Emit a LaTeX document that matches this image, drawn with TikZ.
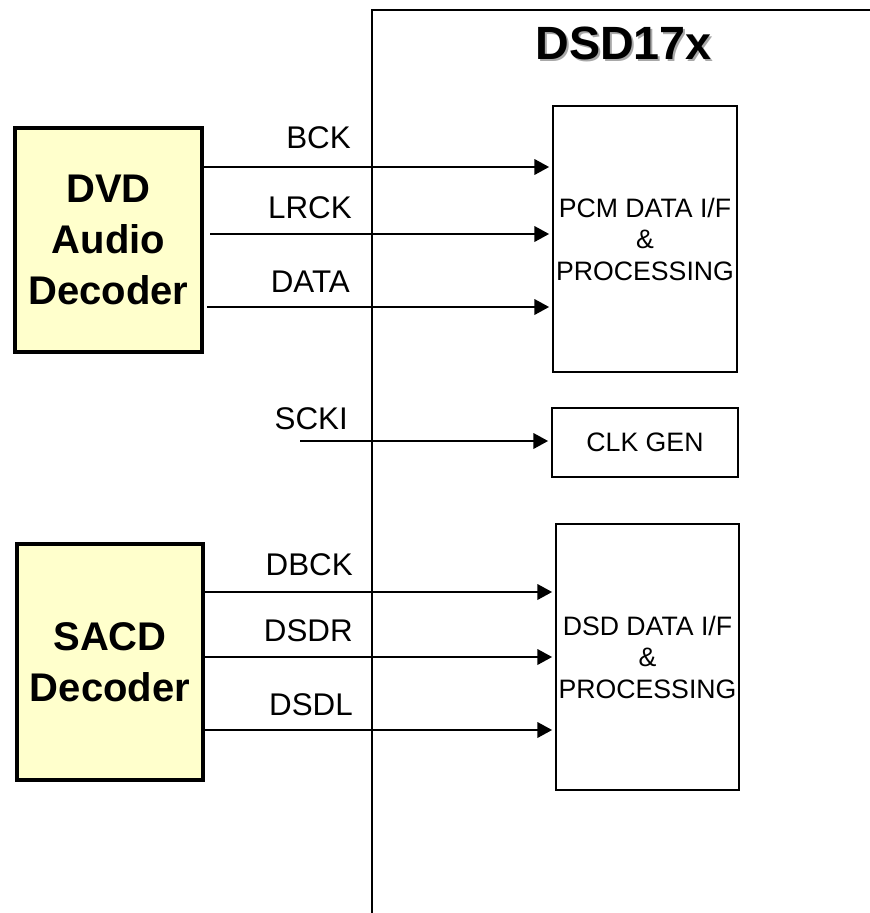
\documentclass[tikz,border=0pt]{standalone}
\usepackage{xcolor}
\usepackage{fontspec}
\setmainfont{Liberation Sans}
\usepackage{tikz}
\usetikzlibrary{arrows.meta}
\definecolor{DFill}{HTML}{FFFFCC}
\definecolor{DShade}{HTML}{A8A8A8}

\begin{document}
\begin{tikzpicture}[x=0.75pt,y=-0.75pt,every node/.style={align=center},
  decoder/.style={draw=black, line width=2.8pt, fill=DFill, inner sep=0pt,
    font=\fontsize{30}{38}\selectfont\bfseries},
  block/.style={draw=black, line width=1.8pt, inner sep=0pt,
    font=\fontsize{20}{23.6}\selectfont},
  pinlabel/.style={font=\fontsize{23.5}{27}\selectfont, anchor=base east, inner sep=0pt},
  chiptitle/.style={font=\fontsize{35}{40}\selectfont\bfseries, anchor=base, inner sep=0pt},
  sig/.style={line width=1.8pt, -{Triangle[length=11pt,width=11.5pt]}, shorten >=2pt}]
  \useasboundingbox (0,0) rectangle (870,913);

  % chip outline and title
  \draw[line width=1.8pt] (372,913) -- (372,10) -- (870,10);
  \node[chiptitle, text=DShade] (titleshade) at (625.5,62) {DSD17x};
  \node[chiptitle] (title) at (623.5,60) {DSD17x};

  % external decoders
  \node[decoder, minimum width=140.25pt, minimum height=168pt] (dvd) at (108.5,240) {DVD\\Audio\\Decoder};
  \node[decoder, minimum width=139.5pt, minimum height=177pt] (sacd) at (110,662) {SACD\\Decoder};

  % internal blocks
  \node[block, minimum width=138pt, minimum height=199.5pt] (pcm) at (645,239) {PCM DATA I/F\\\&\\PROCESSING};
  \node[block, minimum width=139.5pt, minimum height=51.75pt] (clk) at (645,442.5) {CLK GEN};
  \node[block, minimum width=137.25pt, minimum height=199.5pt] (dsd) at (647.5,657) {DSD DATA I/F\\\&\\PROCESSING};

  % PCM inputs
  \coordinate (bck) at (202,167);
  \coordinate (lrck) at (210,234);
  \coordinate (data) at (207,307);
  \node[pinlabel] (bcklbl) at (351,149) {BCK};
  \node[pinlabel] (lrcklbl) at (352,218) {LRCK};
  \node[pinlabel] (datalbl) at (350,292) {DATA};
  \draw[sig] (bck) -- (bck -| pcm.west);
  \draw[sig] (lrck) -- (lrck -| pcm.west);
  \draw[sig] (data) -- (data -| pcm.west);

  % system clock
  \coordinate (scki) at (300,441);
  \node[pinlabel] (sckilbl) at (348,429) {SCKI};
  \draw[sig] (scki) -- (scki -| clk.west);

  % DSD inputs
  \coordinate (dbck) at (203,592);
  \coordinate (dsdr) at (203,657);
  \coordinate (dsdl) at (203,730);
  \node[pinlabel] (dbcklbl) at (353,575) {DBCK};
  \node[pinlabel] (dsdrlbl) at (353,641) {DSDR};
  \node[pinlabel] (dsdllbl) at (353,715) {DSDL};
  \draw[sig] (dbck) -- (dbck -| dsd.west);
  \draw[sig] (dsdr) -- (dsdr -| dsd.west);
  \draw[sig] (dsdl) -- (dsdl -| dsd.west);
\end{tikzpicture}
\end{document}
